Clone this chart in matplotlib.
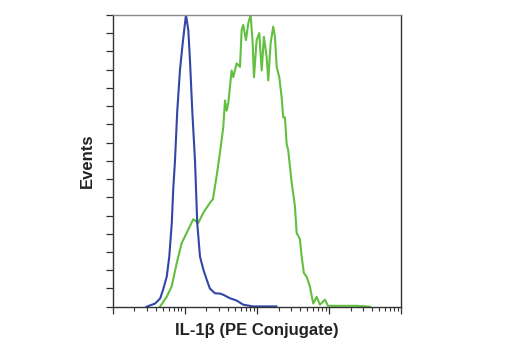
import numpy as np
import matplotlib
matplotlib.use('Agg')
import matplotlib.pyplot as plt
from matplotlib.ticker import LogLocator, NullFormatter

# Histogram traces, x in decades (log10 of intensity), y as % of max
blue_dec = [0.47, 0.59, 0.66, 0.70, 0.75, 0.785, 0.82, 0.84, 0.864, 0.896, 0.933, 0.971,
            1.003, 1.017, 1.049, 1.072, 1.104, 1.142, 1.173, 1.211, 1.257, 1.304, 1.349,
            1.419, 1.488, 1.534, 1.627, 1.72, 1.811, 1.946, 2.27]
blue_val = [0, 1.1, 2.9, 5.9, 10.3, 17.2, 28.7, 40.3, 50, 67.2, 81, 90.3,
            97.2, 100, 94.8, 84.5, 67.2, 50, 28.7, 17.2, 12.8, 9.3, 6.2,
            4.6, 4.5, 4.1, 2.9, 2.1, 0.7, 0.1, 0.1]

green_dec = [0.656, 0.749, 0.818, 0.888, 0.957, 1.026, 1.118, 1.187, 1.257, 1.349, 1.391,
             1.442, 1.488, 1.534, 1.558, 1.581, 1.603, 1.65, 1.673, 1.72, 1.766, 1.789,
             1.811, 1.849, 1.881, 1.914, 1.942, 1.96, 1.997, 2.033, 2.067, 2.098, 2.136,
             2.158, 2.191, 2.227, 2.251, 2.275, 2.311, 2.344, 2.366, 2.39, 2.413, 2.436,
             2.483, 2.528, 2.552, 2.598, 2.621, 2.653, 2.691, 2.736, 2.782, 2.829, 2.875,
             2.945, 2.986, 3.107, 3.384, 3.57]
green_val = [0, 3.4, 6.9, 14.9, 21.8, 25.3, 30, 28.7, 32.2, 35.6, 36.9,
             44.8, 52.8, 61.5, 70.7, 67.2, 69.7, 81, 78.7, 83.4, 82.2, 94.8,
             96.6, 91.4, 97.2, 100, 90.3, 78.7, 91.4, 93.8, 81, 92.5, 85.6,
             77.6, 90.3, 96, 92.5, 82.2, 78.7, 71.8, 64.9, 64.9, 55.9, 53.4,
             42.5, 34.5, 25.3, 23.1, 17.2, 11.5, 10.3, 6.9, 1.1, 3.4, 0.7,
             2.4, 0.3, 0.3, 0.3, 0]

x_label = 'IL-1β (PE Conjugate)'
y_label = 'Events'

fig = plt.figure(figsize=(5.2, 3.5), dpi=100)
ax = fig.add_axes([0.2167, 0.1237, 0.5545, 0.8334])

ax.plot(10 ** np.array(green_dec), green_val, color='#62bf3f', lw=1.5)
ax.plot(10 ** np.array(blue_dec), blue_val, color='#3246a6', lw=1.5)

ax.set_xscale('log')
ax.set_xlim(1, 1e4)
ax.set_ylim(0, 100)
ax.xaxis.set_major_locator(LogLocator(base=10, numticks=10))
ax.xaxis.set_minor_locator(LogLocator(base=10, subs=np.arange(2, 10), numticks=10))
ax.xaxis.set_major_formatter(NullFormatter())
ax.xaxis.set_minor_formatter(NullFormatter())
ax.set_yticks(np.linspace(0, 100, 17))
ax.set_yticklabels([])

ax.tick_params(axis='x', which='major', direction='out', length=5, width=0.9, color='#333333')
ax.tick_params(axis='x', which='minor', direction='out', length=3, width=0.8, color='#333333')
ax.tick_params(axis='y', direction='out', length=5, width=0.9, color='#333333')

for side in ['left', 'bottom', 'right']:
    ax.spines[side].set_color('#333333')
    ax.spines[side].set_linewidth(1.0)
ax.spines['top'].set_color('#888888')
ax.spines['top'].set_linewidth(1.0)

fnt = ['Liberation Sans', 'DejaVu Sans']
ax.set_xlabel(x_label, family=fnt, fontweight='bold', fontsize=12, color='#222222', labelpad=3)
ax.set_ylabel(y_label, family=fnt, fontweight='bold', fontsize=12, color='#222222', labelpad=4)

fig.savefig('out.png', dpi=100)
